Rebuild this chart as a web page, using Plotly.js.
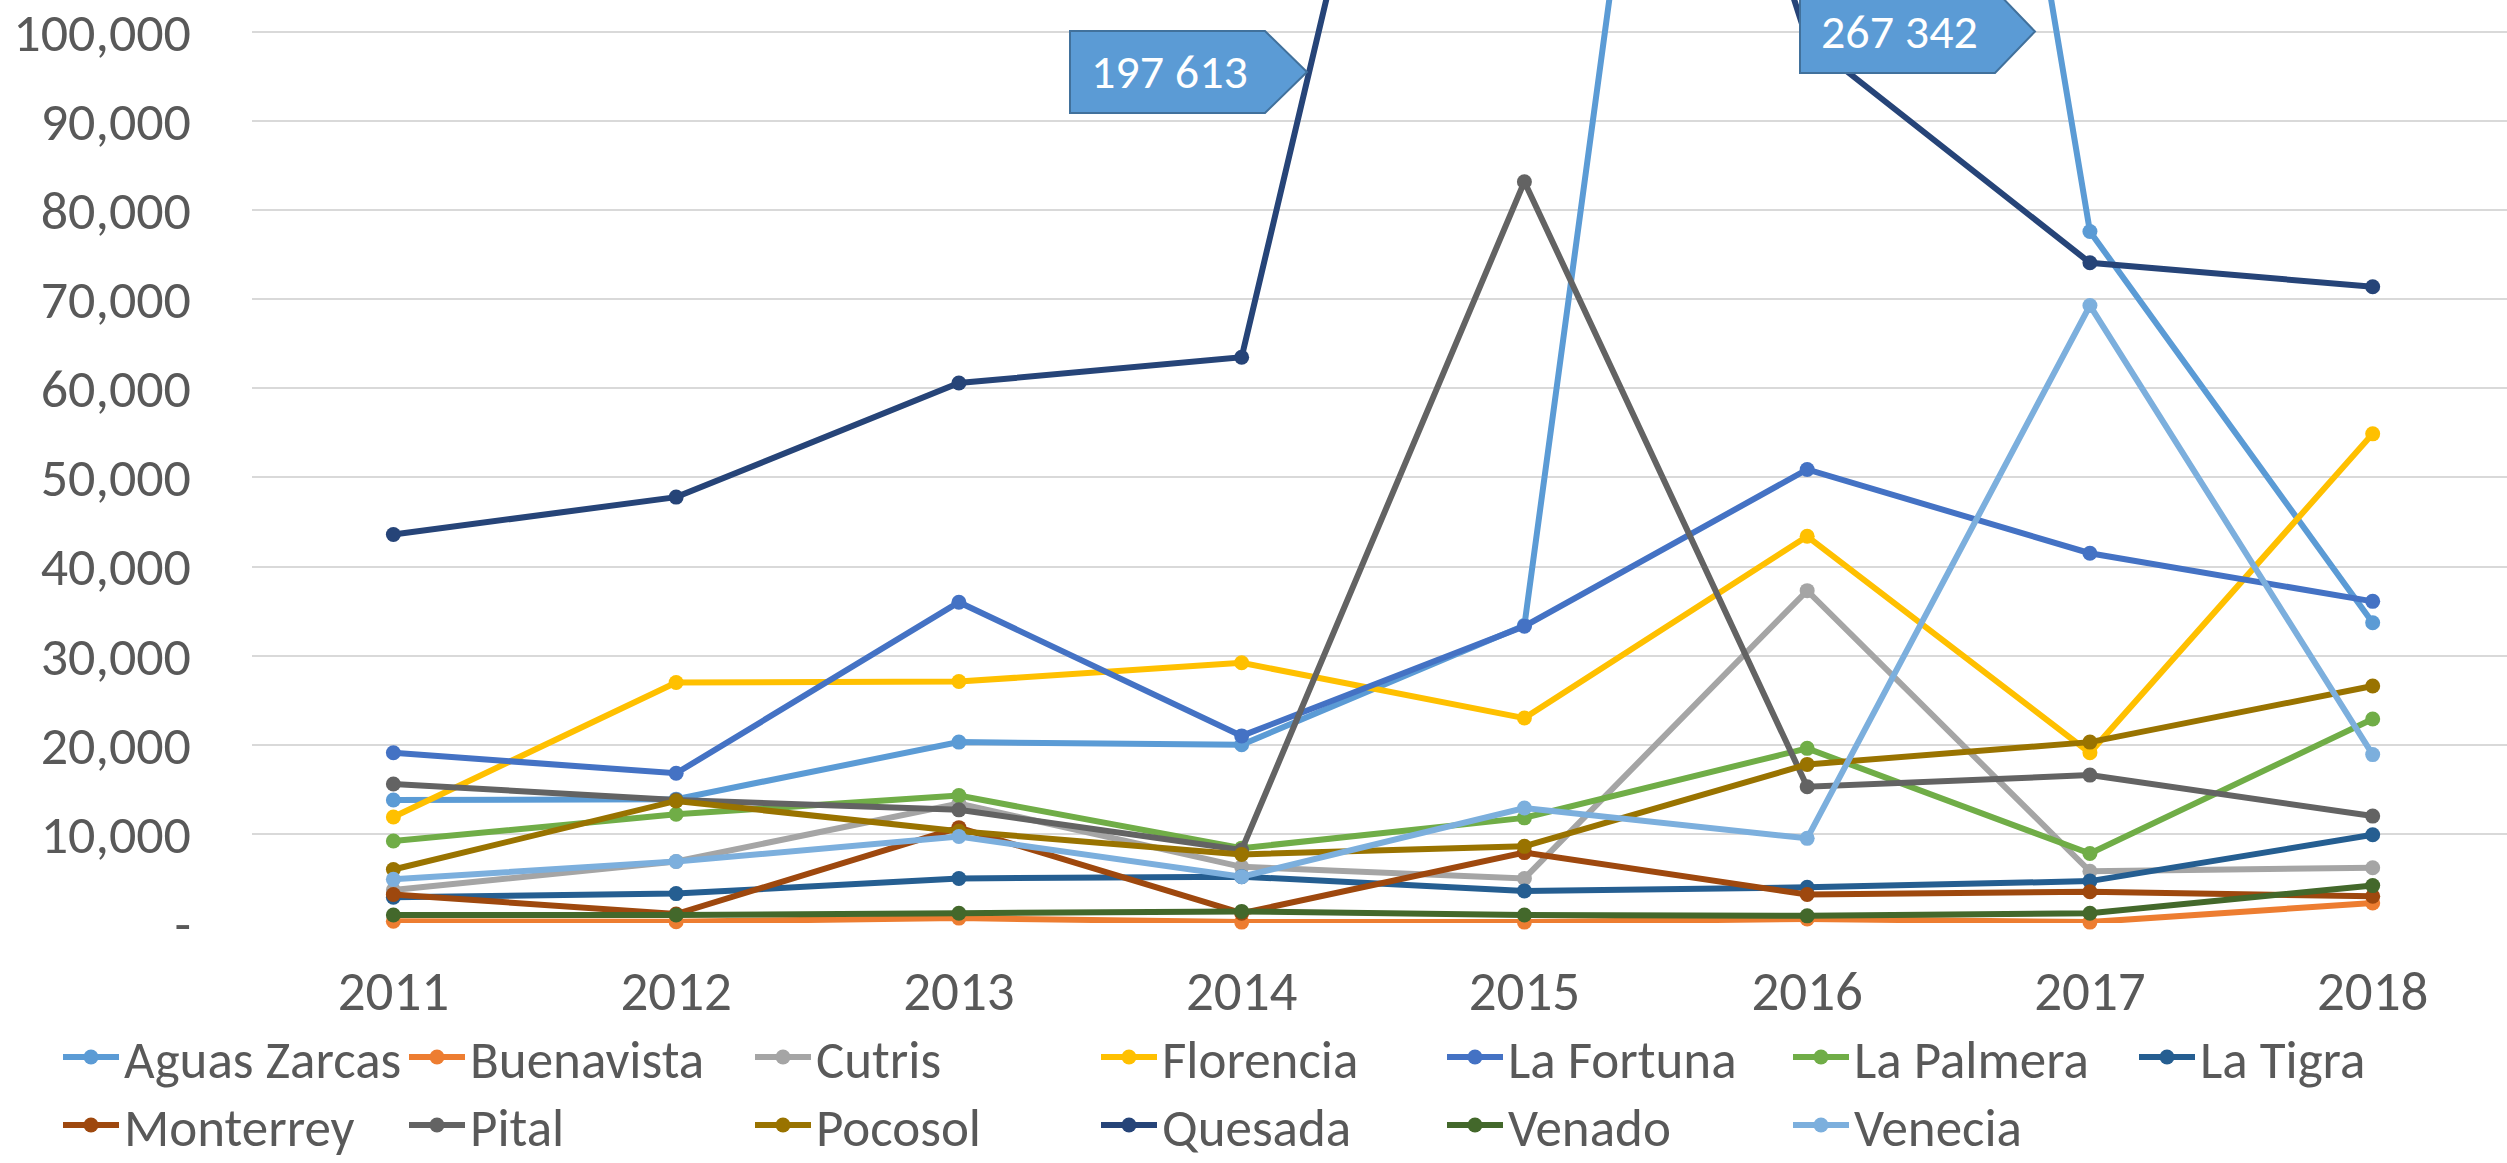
<!DOCTYPE html>
<html>
<head>
<meta charset="utf-8">
<script src="https://cdn.plot.ly/plotly-3.0.1.min.js"></script>
<style>html,body{margin:0;padding:0;background:#fff;}#chart{width:2507px;height:1163px;}</style>
</head>
<body>
<div id="chart"></div>
<script>
// ---- data ----
const years = [2011, 2012, 2013, 2014, 2015, 2016, 2017, 2018];
const seriesNames = ["Aguas Zarcas", "Buenavista", "Cutris", "Florencia", "La Fortuna", "La Palmera", "La Tigra",
                     "Monterrey", "Pital", "Pocosol", "Quesada", "Venado", "Venecia"];
const aguasZarcas = [13800, 13900, 20300, 20000, 33400, 267342, 77600, 33700];
const buenavista  = [200, 150, 550, 100, 100, 450, 100, 2250];
const cutris      = [3700, 6900, 13400, 6300, 5000, 37300, 5800, 6200];
const florencia   = [11900, 27000, 27100, 29200, 23000, 43400, 19100, 54900];
const laFortuna   = [19100, 16800, 36000, 21000, 33300, 50900, 41500, 36100];
const laPalmera   = [9200, 12200, 14300, 8400, 11800, 19600, 7800, 22900];
const laTigra     = [2900, 3300, 5000, 5200, 3600, 4000, 4700, 9900];
const monterrey   = [3200, 1000, 10700, 1100, 7900, 3200, 3500, 3000];
const pital       = [15600, 13800, 12700, 8200, 83200, 15300, 16600, 12000];
const pocosol     = [6000, 13700, 10300, 7700, 8600, 17800, 20300, 26600];
const quesada     = [43600, 47800, 60600, 63500, 197613, 99100, 74100, 71400];
const venado      = [900, 900, 1100, 1300, 900, 800, 1100, 4200];
const venecia     = [4900, 6900, 9700, 5200, 12900, 9500, 69300, 18900];
const yTickVals   = [0, 10000, 20000, 30000, 40000, 50000, 60000, 70000, 80000, 90000, 100000];
const yTickText   = ["-", "10,000", "20,000", "30,000", "40,000", "50,000", "60,000", "70,000", "80,000", "90,000", "100,000"];

// ---- styling ----
const allValues = [aguasZarcas, buenavista, cutris, florencia, laFortuna, laPalmera, laTigra,
                   monterrey, pital, pocosol, quesada, venado, venecia];
const colors = ["#5B9BD5", "#ED7D31", "#A5A5A5", "#FFC000", "#4472C4", "#70AD47", "#255E91",
                "#9E480E", "#636363", "#997300", "#264478", "#43682B", "#7CAFDD"];
const FONT = 'Calibri, Carlito, "Liberation Sans", Arial, sans-serif';
const W = 2507, H = 1163;
const PL = 252, PR = 0, PT = 0, PB = 240;
const plotW = W - PL - PR, plotH = H - PT - PB;

const traces = allValues.map((vals, i) => ({
  type: 'scatter', mode: 'lines+markers',
  name: seriesNames[i], x: years, y: vals,
  line: {color: colors[i], width: 6},
  marker: {color: colors[i], size: 15},
  cliponaxis: false,
  legend: i < 7 ? 'legend' : 'legend2',
  hoverinfo: 'x+y+name'
}));

// pixel -> paper helpers for decorative callouts
const px = v => (v - PL) / plotW;
const py = v => (H - PB - v) / plotH;

function calloutPath(x0, x1, tip, yTop, yBot) {
  const yMid = (yTop + yBot) / 2;
  return `M ${px(x0)} ${py(yTop)} L ${px(x1)} ${py(yTop)} L ${px(tip)} ${py(yMid)} L ${px(x1)} ${py(yBot)} L ${px(x0)} ${py(yBot)} Z`;
}
const fmtSpace = v => String(v).replace(/\B(?=(\d{3})+(?!\d))/g, ' ');
const peakQ = Math.max(...quesada);
const peakA = Math.max(...aguasZarcas);

const callouts = [
  {x0: 1070, x1: 1265, tip: 1307, yTop: 31, yBot: 113, text: fmtSpace(peakQ)},
  {x0: 1800, x1: 1995, tip: 2035, yTop: -10, yBot: 73, text: fmtSpace(peakA)}
];

const shapes = callouts.map(c => ({
  type: 'path', xref: 'paper', yref: 'paper', layer: 'above',
  path: calloutPath(c.x0, c.x1, c.tip, c.yTop, c.yBot),
  fillcolor: '#5B9BD5', line: {color: '#41719C', width: 2}
}));
const annotations = callouts.map(c => ({
  xref: 'paper', yref: 'paper', x: px((c.x0 + c.x1) / 2 + 2), y: py((c.yTop + c.yBot) / 2),
  xanchor: 'center', yanchor: 'middle', showarrow: false,
  text: c.text, font: {family: FONT, size: 48, color: '#ffffff'}
}));

const legendCommon = {
  orientation: 'h', xanchor: 'left', yanchor: 'middle',
  font: {family: FONT, size: 53, color: '#595959'},
  itemwidth: 56,
  entrywidth: 275, entrywidthmode: 'pixels',
  bgcolor: 'rgba(0,0,0,0)', borderwidth: 0
};

const layout = {
  width: W, height: H,
  margin: {l: PL, r: PR, t: PT, b: PB, pad: 0, autoexpand: false},
  paper_bgcolor: '#ffffff', plot_bgcolor: '#ffffff',
  showlegend: true,
  xaxis: {
    type: 'linear', range: [2010.5, 2018.475], tickvals: years, ticktext: years.map(String),
    showgrid: false, zeroline: false, showline: false, ticks: '', automargin: false,
    tickfont: {family: FONT, size: 55, color: '#595959'}, ticklabelstandoff: 31,
    ticklabeloverflow: 'allow'
  },
  yaxis: {
    range: [0, 103590], tickvals: yTickVals, ticktext: yTickText,
    showgrid: true, gridcolor: '#D9D9D9', gridwidth: 2, zeroline: false, showline: false, ticks: '',
    automargin: false,
    tickfont: {family: FONT, size: 54, color: '#595959'}, ticklabelstandoff: 60,
    ticklabeloverflow: 'allow'
  },
  legend: Object.assign({x: px(58), y: py(1057)}, legendCommon),
  legend2: Object.assign({x: px(58), y: py(1125)}, legendCommon),
  shapes: shapes,
  annotations: annotations
};

Plotly.newPlot('chart', traces, layout, {displayModeBar: false, staticPlot: true});
</script>
</body>
</html>
